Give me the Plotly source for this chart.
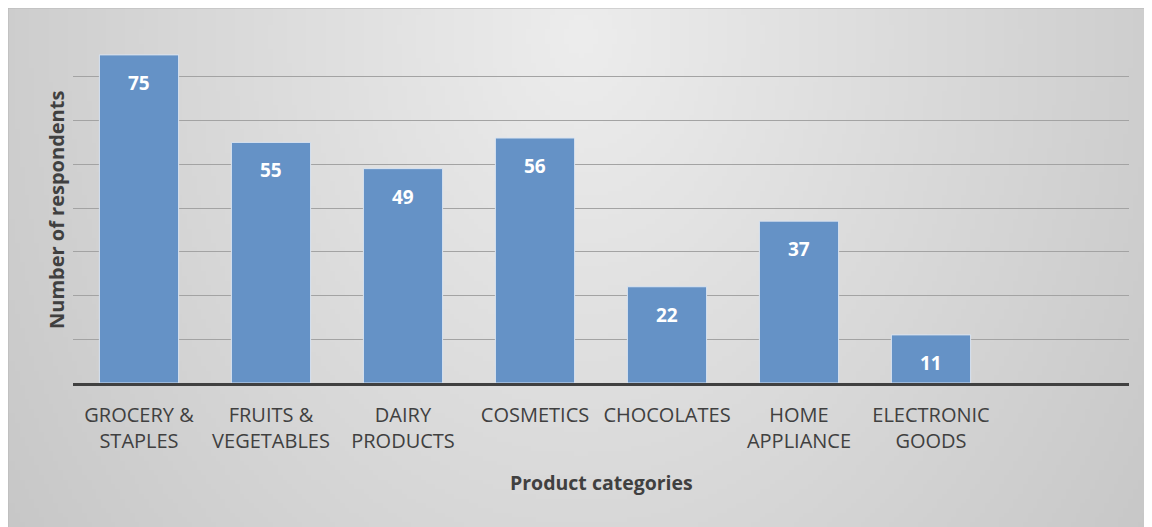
import base64, struct, zlib
import numpy as np
import plotly.graph_objects as go

categories = ["GROCERY &<br>STAPLES", "FRUITS &<br>VEGETABLES", "DAIRY<br>PRODUCTS",
              "COSMETICS", "CHOCOLATES", "HOME<br>APPLIANCE", "ELECTRONIC<br>GOODS", " "]
values = [75, 55, 49, 56, 22, 37, 11, None]
y_title = "Number of respondents"
x_title = "Product categories"

# page body has an 8px margin; figure coordinates = page coordinates - 8
OFF = 8
W, H = 1152 - OFF, 527 - OFF
L, R, T, B = 73 - OFF, 1152 - 1129, 33 - OFF, 527 - 383
pw, ph = W - L - R, H - T - B


def gradient_png(w=240, h=110):
    xs = np.linspace(0, 1, w)
    ys = np.linspace(0, 1, h)
    X, Y = np.meshgrid(xs, ys)
    dx = (X - 0.5) / 0.5
    dy = (Y - 0.05) / 1.4
    d = np.sqrt(dx ** 2 + dy ** 2)
    v = np.clip(237 - 31 * d, 0, 255).astype(np.uint8)
    raw = b"".join(b"\x00" + v[i].tobytes() for i in range(h))

    def chunk(tag, data):
        c = struct.pack(">I", len(data)) + tag + data
        return c + struct.pack(">I", zlib.crc32(tag + data) & 0xffffffff)
    png = b"\x89PNG\r\n\x1a\n" + chunk(b"IHDR", struct.pack(">IIBBBBB", w, h, 8, 0, 0, 0, 0))
    png += chunk(b"IDAT", zlib.compress(raw, 9)) + chunk(b"IEND", b"")
    return "data:image/png;base64," + base64.b64encode(png).decode()


def fx(px):  # page px -> paper fraction
    return (px - OFF - L) / pw


def fy(py):
    return (H - B - (py - OFF)) / ph


fig = go.Figure()
fig.add_trace(go.Bar(
    x=categories, y=values, width=0.6,
    marker=dict(color="#6592c6", line=dict(color="#d9e3f0", width=1)),
    hoverinfo="skip",
))

for c, v in zip(categories, values):
    if v is None:
        continue
    fig.add_annotation(x=c, y=v, text=f"<b>{v}</b>", showarrow=False, yanchor="middle",
                       yshift=-28, font=dict(family="Open Sans", size=19, color="white"))

fig.add_annotation(xref="paper", yref="paper", x=fx(601), y=fy(483), text=f"<b>{x_title}</b>",
                   showarrow=False, xanchor="center", yanchor="middle",
                   font=dict(family="Open Sans", size=19.5, color="#404040"))
fig.add_annotation(xref="paper", yref="paper", x=fx(56), y=fy(210), text=f"<b>{y_title}</b>",
                   showarrow=False, textangle=-90, xanchor="center", yanchor="middle",
                   font=dict(family="Open Sans", size=20, color="#404040"))

fig.add_layout_image(dict(source=gradient_png(), xref="paper", yref="paper",
                          x=fx(OFF), y=fy(OFF), sizex=(W + 2) / pw, sizey=(H + 2) / ph,
                          xanchor="left", yanchor="top", sizing="stretch", layer="below"))
fig.add_shape(type="rect", xref="paper", yref="paper", x0=fx(OFF), x1=fx(1160), y0=fy(OFF), y1=fy(540),
              line=dict(color="#b8b8b8", width=1), fillcolor="rgba(0,0,0,0)", layer="below")

fig.update_layout(
    width=W, height=H,
    margin=dict(l=L, r=R, t=T, b=B, pad=0),
    paper_bgcolor="white", plot_bgcolor="rgba(0,0,0,0)",
    showlegend=False, bargap=0.4,
    font=dict(family="Open Sans", color="#404040"),
)
fig.update_xaxes(
    showline=True, linecolor="#404040", linewidth=3,
    ticks="outside", ticklen=12, tickcolor="rgba(0,0,0,0)",
    tickfont=dict(size=20, color="#404040"),
    range=[-0.5, 7.5], fixedrange=True, automargin=False,
)
fig.update_yaxes(
    range=[0, 80], dtick=10, showticklabels=False, zeroline=False,
    showgrid=True, gridcolor="#a3a3a3", gridwidth=1.3,
    fixedrange=True, automargin=False,
)

fig.write_html("out.html")
